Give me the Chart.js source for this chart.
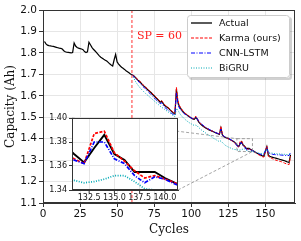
<!DOCTYPE html>
<html>
<head>
<meta charset="utf-8">
<script src="https://cdn.jsdelivr.net/npm/chart.js@4.4.1/dist/chart.umd.min.js"></script>
<style>
  html, body { margin: 0; padding: 0; background: #fff; }
  #wrap { position: relative; width: 301px; height: 241px; }
  #main { position: absolute; left: 0; top: 0; }
  #inset { position: absolute; left: 40px; top: 110px; }
</style>
</head>
<body>
<div id="wrap">
  <canvas id="main" width="301" height="241"></canvas>
  <canvas id="inset" width="145" height="95"></canvas>
</div>
<script>
(function () {
    "use strict";

    // Data (capacity in Ah per cycle)
    const actualStart = 1;
    const predStart = 60;
    const splitPoint = 60;

    const actual = [
        1.853, 1.842, 1.836, 1.834, 1.833, 1.831, 1.830, 1.828, 1.826, 1.824,
        1.822, 1.821, 1.818, 1.810, 1.805, 1.803, 1.802, 1.801, 1.800, 1.802,
        1.846, 1.832, 1.825, 1.822, 1.820, 1.818, 1.815, 1.806, 1.802, 1.805,
        1.850, 1.838, 1.826, 1.817, 1.810, 1.802, 1.794, 1.786, 1.780, 1.775,
        1.770, 1.766, 1.762, 1.756, 1.749, 1.743, 1.739, 1.768, 1.793, 1.758,
        1.748, 1.740, 1.733, 1.728, 1.723, 1.717, 1.712, 1.707, 1.702, 1.698,
        1.695, 1.688, 1.680, 1.673, 1.668, 1.660, 1.652, 1.645, 1.640, 1.632,
        1.626, 1.620, 1.614, 1.606, 1.600, 1.592, 1.586, 1.578, 1.570, 1.575,
        1.565, 1.556, 1.550, 1.545, 1.540, 1.532, 1.526, 1.520, 1.516, 1.630,
        1.570, 1.550, 1.540, 1.530, 1.522, 1.516, 1.511, 1.506, 1.501, 1.496,
        1.492, 1.490, 1.498, 1.492, 1.478, 1.470, 1.464, 1.458, 1.453, 1.449,
        1.445, 1.441, 1.438, 1.435, 1.432, 1.429, 1.426, 1.423, 1.420, 1.450,
        1.418, 1.410, 1.406, 1.403, 1.400, 1.397, 1.393, 1.389, 1.385, 1.378,
        1.370, 1.363, 1.375, 1.386, 1.370, 1.365, 1.355, 1.355, 1.355, 1.350,
        1.346, 1.342, 1.338, 1.334, 1.330, 1.326, 1.323, 1.320, 1.318, 1.340,
        1.362, 1.323, 1.318, 1.315, 1.313, 1.311, 1.309, 1.307, 1.305, 1.303,
        1.301, 1.299, 1.297, 1.294, 1.291, 1.289, 1.325,
    ];

    const karma = [
        1.698, 1.694, 1.689, 1.682, 1.676, 1.670, 1.662, 1.655, 1.648, 1.642,
        1.635, 1.628, 1.622, 1.616, 1.609, 1.602, 1.595, 1.588, 1.581, 1.574,
        1.578, 1.568, 1.559, 1.553, 1.548, 1.542, 1.535, 1.528, 1.522, 1.518,
        1.640, 1.578, 1.555, 1.543, 1.533, 1.525, 1.518, 1.513, 1.508, 1.503,
        1.498, 1.494, 1.493, 1.505, 1.495, 1.480, 1.472, 1.466, 1.460, 1.455,
        1.450, 1.446, 1.442, 1.439, 1.436, 1.433, 1.430, 1.427, 1.424, 1.421,
        1.458, 1.420, 1.411, 1.407, 1.403, 1.400, 1.396, 1.392, 1.388, 1.383,
        1.375, 1.366, 1.362, 1.387, 1.389, 1.371, 1.364, 1.356, 1.350, 1.352,
        1.349, 1.346, 1.341, 1.336, 1.332, 1.327, 1.323, 1.319, 1.316, 1.314,
        1.342, 1.366, 1.318, 1.312, 1.309, 1.306, 1.303, 1.300, 1.298, 1.296,
        1.294, 1.292, 1.289, 1.286, 1.283, 1.281, 1.279, 1.318,
    ];

    const cnnLstm = [
        1.698, 1.692, 1.684, 1.676, 1.670, 1.662, 1.655, 1.646, 1.640, 1.633,
        1.625, 1.618, 1.612, 1.605, 1.598, 1.590, 1.583, 1.577, 1.569, 1.562,
        1.568, 1.556, 1.547, 1.541, 1.535, 1.530, 1.523, 1.517, 1.512, 1.510,
        1.612, 1.560, 1.543, 1.533, 1.525, 1.518, 1.513, 1.509, 1.505, 1.500,
        1.496, 1.494, 1.493, 1.500, 1.494, 1.481, 1.474, 1.468, 1.462, 1.457,
        1.452, 1.448, 1.444, 1.440, 1.437, 1.433, 1.430, 1.427, 1.424, 1.421,
        1.445, 1.418, 1.411, 1.407, 1.404, 1.401, 1.398, 1.394, 1.390, 1.385,
        1.376, 1.365, 1.362, 1.380, 1.380, 1.366, 1.362, 1.352, 1.346, 1.351,
        1.349, 1.345, 1.342, 1.338, 1.335, 1.332, 1.329, 1.327, 1.325, 1.324,
        1.345, 1.360, 1.333, 1.330, 1.328, 1.327, 1.326, 1.325, 1.325, 1.324,
        1.324, 1.323, 1.323, 1.322, 1.322, 1.321, 1.322, 1.335,
    ];

    const biGru = [
        1.698, 1.686, 1.672, 1.660, 1.650, 1.641, 1.633, 1.626, 1.619, 1.612,
        1.606, 1.600, 1.594, 1.588, 1.582, 1.576, 1.570, 1.564, 1.558, 1.552,
        1.547, 1.542, 1.537, 1.532, 1.527, 1.522, 1.517, 1.512, 1.507, 1.503,
        1.540, 1.534, 1.520, 1.510, 1.502, 1.495, 1.489, 1.483, 1.478, 1.473,
        1.469, 1.465, 1.462, 1.463, 1.460, 1.452, 1.446, 1.440, 1.435, 1.430,
        1.425, 1.420, 1.416, 1.412, 1.407, 1.402, 1.398, 1.394, 1.390, 1.386,
        1.390, 1.382, 1.375, 1.369, 1.365, 1.361, 1.358, 1.355, 1.352, 1.350,
        1.349, 1.348, 1.346, 1.347, 1.349, 1.352, 1.352, 1.347, 1.341, 1.340,
        1.340, 1.340, 1.338, 1.336, 1.334, 1.333, 1.332, 1.331, 1.331, 1.332,
        1.342, 1.352, 1.340, 1.335, 1.333, 1.332, 1.331, 1.330, 1.329, 1.329,
        1.328, 1.328, 1.327, 1.327, 1.326, 1.326, 1.327, 1.333,
    ];

    const mainXTicks = [0, 25, 50, 75, 100, 125, 150];
    const mainYTicks = [1.1, 1.2, 1.3, 1.4, 1.5, 1.6, 1.7, 1.8, 1.9, 2.0];
    const insetXTicks = [132.5, 135.0, 137.5, 140.0];
    const insetYTicks = [1.34, 1.36, 1.38, 1.40];
    const zoomX = [130.8, 141.3];
    const zoomY = [1.34, 1.40];

    const seriesNames = ["Actual", "Karma (ours)", "CNN-LSTM", "BiGRU"];

    // Layout of the inset on the page (chart area box)
    const INSET = { left: 72, top: 118, right: 178, bottom: 190 };

    const toPoints = (start, values) =>
        values.map((v, i) => ({ x: start + i, y: v }));

    const styles = [
        { color: "#000000", dash: [] },
        { color: "#ff0000", dash: [3, 1.5] },
        { color: "#0000ff", dash: [4, 1.5, 1, 1.5] },
        { color: "#00a9b5", dash: [1, 1.5] },
    ];

    function makeDatasets(width) {
        const sets = [
            toPoints(actualStart, actual),
            toPoints(predStart, karma),
            toPoints(predStart, cnnLstm),
            toPoints(predStart, biGru),
        ];
        return sets.map((data, i) => ({
            label: seriesNames[i],
            data: data,
            borderColor: styles[i].color,
            borderDash: styles[i].dash,
            borderWidth: i === 0 ? width + 0.2 : width,
            pointRadius: 0,
            fill: false,
            tension: 0,
            order: 4 - i,
        }));
    }

    const tickFont = { family: "DejaVu Sans", size: 10.5 };
    const titleFont = { family: "DejaVu Serif", size: 12 };

    const mainDecor = {
        id: "mainDecor",
        afterDatasetsDraw(chart) {
            const { ctx, chartArea: a, scales } = chart;
            const xs = scales.x, ys = scales.y;
            ctx.save();
            // split point line
            const sx = xs.getPixelForValue(splitPoint);
            ctx.strokeStyle = "#ff3030";
            ctx.lineWidth = 1;
            ctx.setLineDash([3, 2]);
            ctx.beginPath();
            ctx.moveTo(sx, a.top);
            ctx.lineTo(sx, a.bottom);
            ctx.stroke();
            ctx.setLineDash([]);
            ctx.fillStyle = "#ff2020";
            ctx.font = "11px 'DejaVu Serif'";
            ctx.textBaseline = "middle";
            ctx.fillText("SP = " + splitPoint, sx + 5, 36);

            // zoom rectangle and connectors
            const rl = xs.getPixelForValue(zoomX[0]);
            const rr = xs.getPixelForValue(zoomX[1]);
            const rt = ys.getPixelForValue(zoomY[1]);
            const rb = ys.getPixelForValue(zoomY[0]);
            ctx.strokeStyle = "rgba(120,120,120,0.75)";
            ctx.lineWidth = 0.9;
            ctx.setLineDash([3, 2]);
            ctx.strokeRect(rl, rt, rr - rl, rb - rt);
            ctx.beginPath();
            ctx.moveTo(INSET.left, INSET.top);
            ctx.lineTo(rl, rt);
            ctx.moveTo(INSET.right, INSET.bottom);
            ctx.lineTo(rr, rb);
            ctx.stroke();
            ctx.setLineDash([]);

            // frame
            ctx.strokeStyle = "#333";
            ctx.lineWidth = 1;
            ctx.strokeRect(a.left + 0.5, a.top + 0.5, a.right - a.left - 1, a.bottom - a.top - 1);

            // legend
            const lx = 187, ly = 15, lw = 103, lh = 63;
            ctx.fillStyle = "rgba(0,0,0,0.18)";
            roundRect(ctx, lx + 2, ly + 2, lw, lh, 3);
            ctx.fill();
            ctx.fillStyle = "#ffffff";
            roundRect(ctx, lx, ly, lw, lh, 3);
            ctx.fill();
            ctx.strokeStyle = "#cccccc";
            ctx.lineWidth = 1;
            roundRect(ctx, lx + 0.5, ly + 0.5, lw - 1, lh - 1, 3);
            ctx.stroke();
            ctx.font = "9.5px 'DejaVu Sans'";
            ctx.textBaseline = "middle";
            seriesNames.forEach((name, i) => {
                const yy = ly + 8 + i * 15;
                ctx.strokeStyle = styles[i].color;
                ctx.setLineDash(styles[i].dash);
                ctx.lineWidth = i === 0 ? 1.3 : 1.1;
                ctx.beginPath();
                ctx.moveTo(lx + 4, yy);
                ctx.lineTo(lx + 25, yy);
                ctx.stroke();
                ctx.setLineDash([]);
                ctx.fillStyle = "#111";
                ctx.fillText(name, lx + 32, yy + 0.5);
            });
            ctx.restore();
        },
    };

    function roundRect(ctx, x, y, w, h, r) {
        ctx.beginPath();
        ctx.moveTo(x + r, y);
        ctx.lineTo(x + w - r, y);
        ctx.arcTo(x + w, y, x + w, y + r, r);
        ctx.lineTo(x + w, y + h - r);
        ctx.arcTo(x + w, y + h, x + w - r, y + h, r);
        ctx.lineTo(x + r, y + h);
        ctx.arcTo(x, y + h, x, y + h - r, r);
        ctx.lineTo(x, y + r);
        ctx.arcTo(x, y, x + r, y, r);
        ctx.closePath();
    }

    new Chart(document.getElementById("main").getContext("2d"), {
        type: "line",
        data: { datasets: makeDatasets(1) },
        options: {
            responsive: false,
            animation: false,
            layout: { padding: { left: 0, right: 6, top: 10, bottom: 0 } },
            plugins: { legend: { display: false }, tooltip: { enabled: false } },
            scales: {
                x: {
                    type: "linear",
                    min: 0,
                    max: 170,
                    afterBuildTicks: (s) => { s.ticks = mainXTicks.map((v) => ({ value: v })); },
                    afterFit: (s) => { s.height = 38; },
                    ticks: { font: tickFont, color: "#111", padding: 1, maxRotation: 0 },
                    grid: { color: "#e6e6e6", tickColor: "#333", tickLength: 4 },
                    border: { color: "#333" },
                    title: { display: true, text: "Cycles", font: titleFont, color: "#111", padding: { top: 0 } },
                },
                y: {
                    min: 1.1,
                    max: 2.0,
                    afterBuildTicks: (s) => { s.ticks = mainYTicks.map((v) => ({ value: v })); },
                    afterFit: (s) => { s.width = 43; },
                    ticks: {
                        font: tickFont,
                        color: "#111",
                        padding: 2,
                        callback: (v) => v.toFixed(1),
                    },
                    grid: { color: "#e6e6e6", tickColor: "#333", tickLength: 4 },
                    border: { color: "#333" },
                    title: { display: true, text: "Capacity (Ah)", font: titleFont, color: "#111", padding: { bottom: 0 } },
                },
            },
        },
        plugins: [mainDecor],
    });

    const insetFont = { family: "DejaVu Sans", size: 8 };

    const insetDecor = {
        id: "insetDecor",
        beforeDraw(chart) {
            const { ctx, chartArea: a } = chart;
            ctx.save();
            ctx.fillStyle = "#ffffff";
            ctx.fillRect(a.left, a.top, a.right - a.left, a.bottom - a.top);
            ctx.restore();
        },
        afterDraw(chart) {
            const { ctx, chartArea: a, scales } = chart;
            ctx.save();
            ctx.strokeStyle = "#333";
            ctx.lineWidth = 1;
            ctx.strokeRect(a.left + 0.5, a.top + 0.5, a.right - a.left - 1, a.bottom - a.top - 1);
            // x tick labels (drawn by hand so none get dropped)
            ctx.fillStyle = "#111";
            ctx.font = insetFont.size + "px '" + insetFont.family + "'";
            ctx.textAlign = "center";
            ctx.textBaseline = "top";
            insetXTicks.forEach((v) => {
                const px = scales.x.getPixelForValue(v);
                ctx.beginPath();
                ctx.moveTo(px, a.bottom);
                ctx.lineTo(px, a.bottom + 3);
                ctx.stroke();
                ctx.fillText(v.toFixed(1), px, a.bottom + 4);
            });
            ctx.restore();
        },
    };

    new Chart(document.getElementById("inset").getContext("2d"), {
        type: "line",
        data: { datasets: makeDatasets(1.7) },
        options: {
            responsive: false,
            animation: false,
            layout: { padding: { left: 0, right: 7, top: 8, bottom: 0 } },
            plugins: { legend: { display: false }, tooltip: { enabled: false } },
            scales: {
                x: {
                    type: "linear",
                    min: zoomX[0],
                    max: zoomX[1],
                    afterBuildTicks: (s) => { s.ticks = insetXTicks.map((v) => ({ value: v })); },
                    afterFit: (s) => { s.height = 15; },
                    ticks: { display: false },
                    grid: { color: "#e6e6e6", drawTicks: false },
                    border: { color: "#333" },
                },
                y: {
                    min: zoomY[0],
                    max: zoomY[1],
                    afterBuildTicks: (s) => { s.ticks = insetYTicks.map((v) => ({ value: v })); },
                    afterFit: (s) => { s.width = 32; },
                    ticks: { font: insetFont, color: "#111", padding: 2, callback: (v) => v.toFixed(2) },
                    grid: { color: "#e6e6e6", tickColor: "#333", tickLength: 3 },
                    border: { color: "#333" },
                },
            },
        },
        plugins: [insetDecor],
    });
})();
</script>
</body>
</html>
